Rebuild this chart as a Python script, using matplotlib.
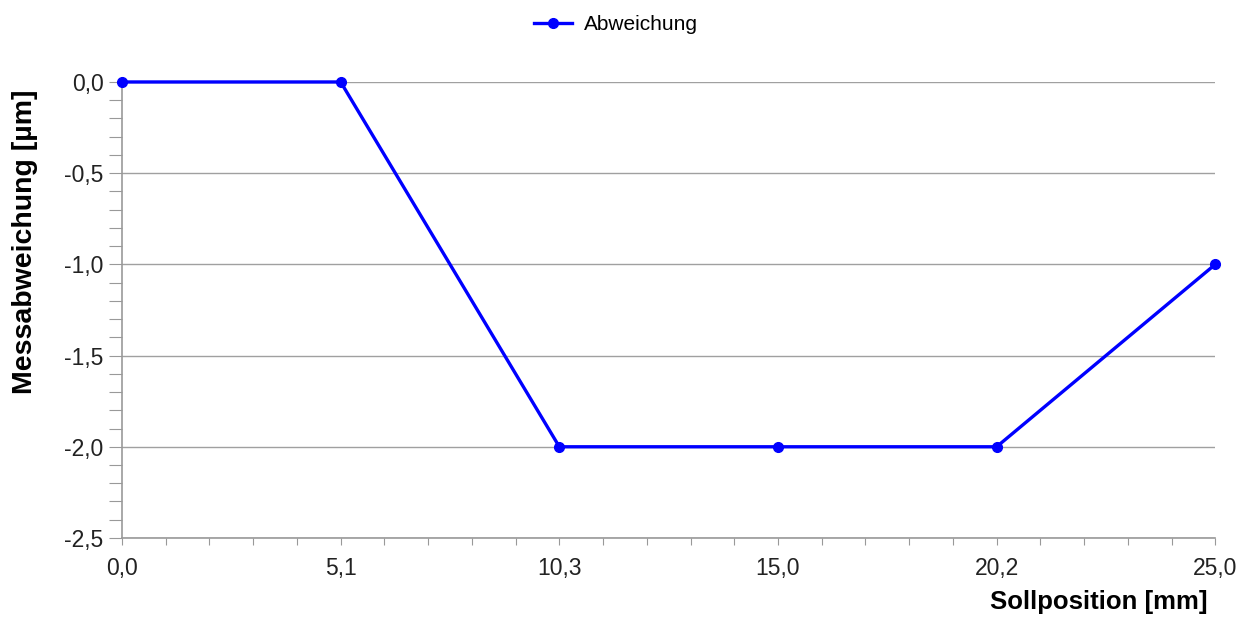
import numpy as np
import matplotlib.pyplot as plt
from matplotlib.ticker import MultipleLocator, FuncFormatter

plt.rcParams['font.family'] = ['Liberation Sans', 'DejaVu Sans']

# Messdaten
sollpositionen = ['0,0', '5,1', '10,3', '15,0', '20,2', '25,0']
abweichung = [0.0, 0.0, -2.0, -2.0, -2.0, -1.0]

x = np.arange(len(sollpositionen))

fig = plt.figure(figsize=(12.49, 6.21), dpi=100)
ax = fig.add_axes([0.0977, 0.1337, 0.8753, 0.7343])

ax.plot(x, abweichung, '-o', color='#0000ff', linewidth=2.4, markersize=7,
        label='Abweichung', clip_on=False, zorder=3)

ax.set_xlim(0, len(x) - 1)
ax.set_ylim(-2.5, 0.0)

# Achsen
ax.set_xticks(x)
ax.set_xticklabels(sollpositionen)
ax.xaxis.set_minor_locator(MultipleLocator(0.2))
ax.yaxis.set_major_locator(MultipleLocator(0.5))
ax.yaxis.set_minor_locator(MultipleLocator(0.1))
ax.yaxis.set_major_formatter(FuncFormatter(lambda v, p: f'{v:.1f}'.replace('.', ',')))

ax.tick_params(axis='x', which='both', direction='out', length=4.8, width=0.8,
               color='#999999', labelsize=16.5, pad=9, labelcolor='#222222')
ax.tick_params(axis='y', which='both', direction='out', length=9.4, width=0.8,
               color='#999999', labelsize=16.5, pad=4, labelcolor='#222222')

ax.grid(True, axis='y', which='major', color='#a0a0a0', linewidth=1)
ax.set_axisbelow(True)

for s in ['top', 'right']:
    ax.spines[s].set_visible(False)
for s in ['left', 'bottom']:
    ax.spines[s].set_color('#999999')
    ax.spines[s].set_linewidth(1.2)

fig.text(25 / 1249, 1 - 242 / 621, 'Messabweichung [µm]', fontsize=20.5,
         fontweight='bold', rotation=90, ha='center', va='center')
fig.text(1208 / 1249, 12 / 621, 'Sollposition [mm]', fontsize=18.5,
         fontweight='bold', ha='right', va='baseline')

ax.legend(loc='center', bbox_to_anchor=(0.452, 1.126), frameon=False,
          fontsize=15, handlelength=1.8, handletextpad=0.6)

plt.savefig('out.png', dpi=100)
